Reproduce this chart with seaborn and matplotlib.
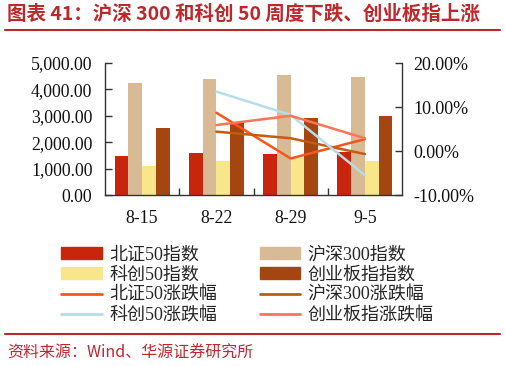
import numpy as np
import pandas as pd
import matplotlib
matplotlib.use("Agg")
import matplotlib.pyplot as plt
import seaborn as sns
from matplotlib.ticker import FuncFormatter, FixedLocator
from matplotlib.patches import Patch
from matplotlib.lines import Line2D

# ---- data ----
dates = ["8-15", "8-22", "8-29", "9-5"]
bar_names = ["北证50指数", "沪深300指数", "科创50指数", "创业板指指数"]
bz50_idx = [1480, 1580, 1565, 1640]
hs300_idx = [4230, 4400, 4530, 4480]
kc50_idx = [1110, 1290, 1390, 1300]
cyb_idx = [2550, 2720, 2920, 2990]

line_names = ["北证50涨跌幅", "沪深300涨跌幅", "科创50涨跌幅", "创业板指涨跌幅"]
bz50_chg = [np.nan, 8.7, -1.7, 2.7]
hs300_chg = [np.nan, 4.4, 2.9, -0.7]
kc50_chg = [np.nan, 13.5, 8.2, -5.5]
cyb_chg = [np.nan, 5.9, 8.0, 2.9]

bar_colors = ["#C9240C", "#D8BA94", "#F7E68A", "#A5450F"]
line_colors = ["#FF5319", "#C55A11", "#B7DDE8", "#FF7456"]

sns.set_theme(style="white")
plt.rcParams["font.family"] = ["Liberation Serif", "Noto Sans CJK SC"]
plt.rcParams["axes.unicode_minus"] = False

fig = plt.figure(figsize=(5.06, 3.66), dpi=100)
ax = fig.add_axes([105 / 506, 1 - 195 / 366, (402 - 105) / 506, (195 - 63) / 366])

bars_df = pd.DataFrame({
    "date": np.tile(dates, 4),
    "value": bz50_idx + hs300_idx + kc50_idx + cyb_idx,
    "series": np.repeat(bar_names, len(dates)),
})
sns.barplot(data=bars_df, x="date", y="value", hue="series", hue_order=bar_names,
            palette=bar_colors, width=0.74, gap=0, ax=ax, legend=False,
            linewidth=0, saturation=1, errorbar=None)

ax.set_ylim(0, 5000)
ax.set_xlim(-0.5, 3.5)
ax.yaxis.set_major_locator(FixedLocator([0, 1000, 2000, 3000, 4000, 5000]))
ax.yaxis.set_major_formatter(FuncFormatter(lambda v, p: f"{v:,.2f}"))
ax.set_xlabel("")
ax.set_ylabel("")

ax2 = ax.twinx()
pos = np.arange(len(dates))
lines_df = pd.DataFrame({
    "pos": np.tile(pos, 4),
    "value": bz50_chg + hs300_chg + kc50_chg + cyb_chg,
    "series": np.repeat(line_names, len(dates)),
}).dropna()
sns.lineplot(data=lines_df, x="pos", y="value", hue="series", hue_order=line_names,
             palette=line_colors, linewidth=1.8, ax=ax2, legend=False, sort=False)
ax2.set_ylim(-10, 20)
ax2.set_xlim(-0.5, 3.5)
ax2.yaxis.set_major_locator(FixedLocator([-10, 0, 10, 20]))
ax2.yaxis.set_major_formatter(FuncFormatter(lambda v, p: f"{v:.2f}%"))
ax2.set_xlabel("")
ax2.set_ylabel("")

for a in (ax, ax2):
    a.spines["top"].set_visible(False)
    for s in ("left", "right", "bottom"):
        a.spines[s].set_color("#333333")
        a.spines[s].set_linewidth(1.0)
ax.spines["right"].set_visible(False)
ax2.spines["left"].set_visible(False)
ax2.spines["bottom"].set_visible(False)

ax.tick_params(axis="y", direction="in", length=5, width=1, color="#333333",
               pad=9, labelsize=12.8, labelcolor="#111111", left=True)
ax2.tick_params(axis="y", direction="in", length=5, width=1, color="#333333",
                pad=8, labelsize=13, labelcolor="#111111", right=True)
ax.set_xticks(pos)
ax.set_xticklabels(dates)
ax.xaxis.set_minor_locator(FixedLocator([0.5, 1.5, 2.5]))
ax.tick_params(axis="x", which="major", length=0, pad=11, labelsize=12.8, labelcolor="#111111")
ax.tick_params(axis="x", which="minor", direction="in", length=5, width=1, color="#333333", bottom=True)

# legend
handles = [
    Patch(color=bar_colors[0]), Patch(color=bar_colors[2]),
    Line2D([], [], color=line_colors[0], lw=2), Line2D([], [], color=line_colors[2], lw=2),
    Patch(color=bar_colors[1]), Patch(color=bar_colors[3]),
    Line2D([], [], color=line_colors[1], lw=2), Line2D([], [], color=line_colors[3], lw=2),
]
labels = [bar_names[0], bar_names[2], line_names[0], line_names[2],
          bar_names[1], bar_names[3], line_names[1], line_names[3]]
fig.legend(handles, labels, ncol=2, loc="upper left", bbox_to_anchor=(45 / 506, 1 - 230 / 366),
           frameon=False, handlelength=2.25, handleheight=0.6,
           handletextpad=0.4, columnspacing=2.37, labelspacing=0.17,
           prop={"family": ["Liberation Serif", "Noto Sans CJK SC"], "size": 13})

red = "#C0272D"
fig.text(7 / 506, 1 - 14 / 366, "图表 41：沪深 300 和科创 50 周度下跌、创业板指上涨",
         fontsize=14, color=red, fontweight="bold", va="center", ha="left",
         family=["Noto Sans CJK SC", "DejaVu Sans"])
fig.add_artist(Line2D([5 / 506, 500 / 506], [1 - 30 / 366, 1 - 30 / 366],
                      color=red, lw=1.5, transform=fig.transFigure))
fig.add_artist(Line2D([5 / 506, 500 / 506], [1 - 334 / 366, 1 - 334 / 366],
                      color=red, lw=1.5, transform=fig.transFigure))
fig.text(7 / 506, 1 - 353 / 366, "资料来源：Wind、华源证券研究所",
         fontsize=11.5, color=red, va="center", ha="left",
         family=["Noto Sans CJK SC", "DejaVu Sans"])

fig.savefig("out.png", dpi=100)
